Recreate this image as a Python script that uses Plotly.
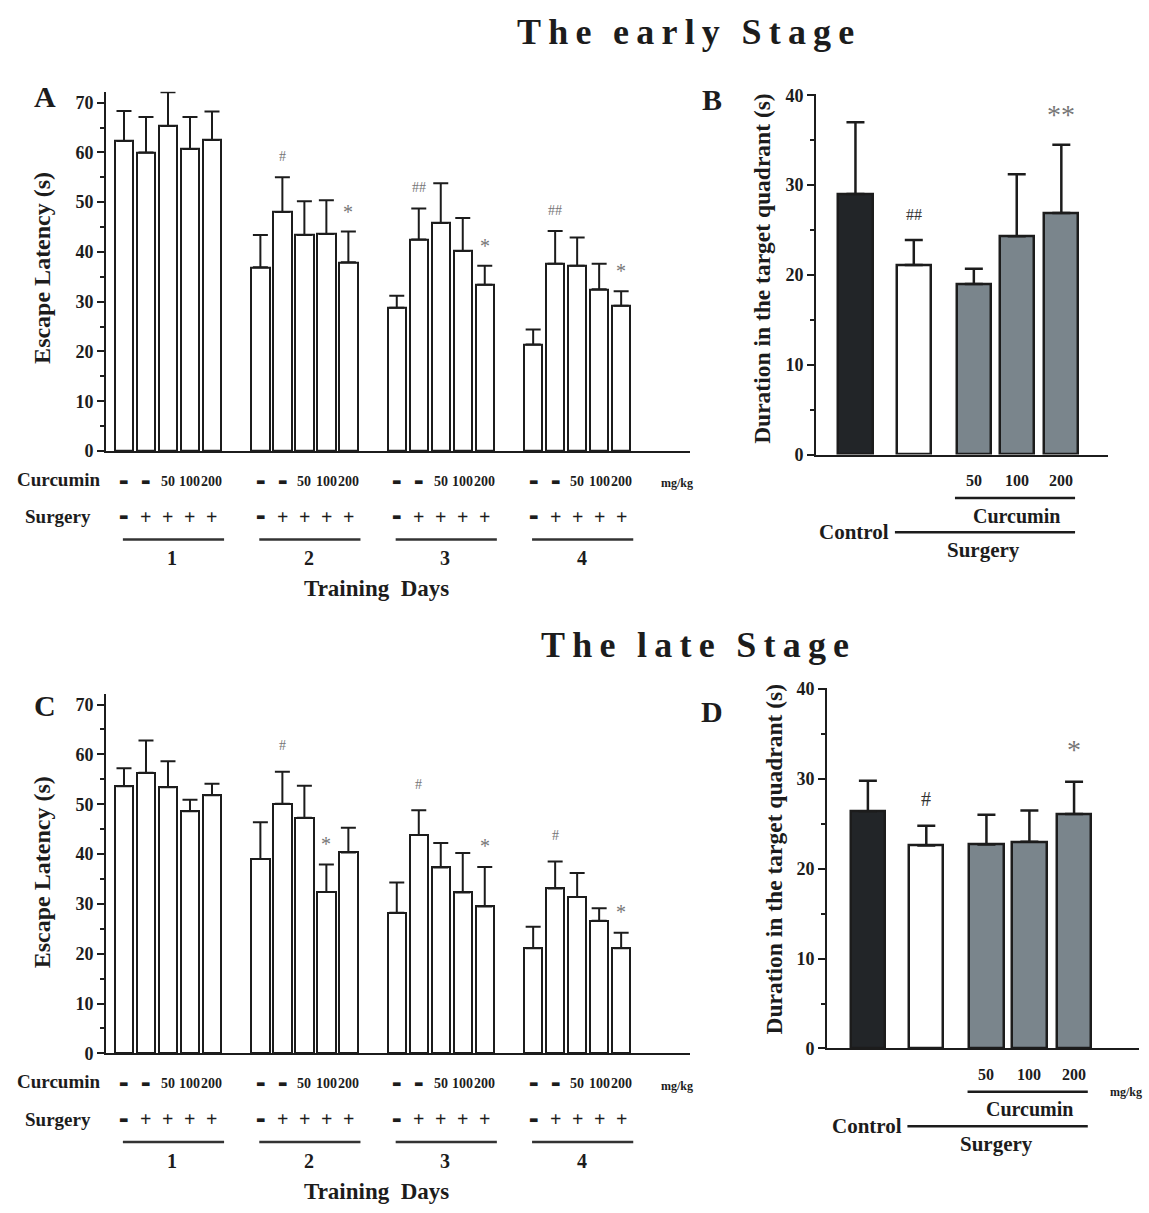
import plotly.graph_objects as go

W, H = 1149, 1213


def px(x):
    return x / W


def py(y):
    return 1 - y / H


FONT = "Liberation Serif"
INK = "#1c1c1c"
MARK_GRAY = "#767676"
BAR_GRAY = "#7a858c"
BAR_BLACK = "#222528"
TS = "\u2009"  # thin space for spaced-out titles
DASH = "\u25ac"  # block dash used in the treatment rows

# ---------------- data ----------------
days = ["1", "2", "3", "4"]
curcumin_row = ["-", "-", "50", "100", "200"]
surgery_row = ["-", "+", "+", "+", "+"]

# Panel A: early stage, escape latency (s), mean and upper SEM per training day
a_mean = [
    [62.3, 60.0, 65.3, 60.7, 62.5],
    [36.9, 48.0, 43.4, 43.6, 37.9],
    [28.8, 42.5, 45.8, 40.2, 33.4],
    [21.4, 37.6, 37.2, 32.5, 29.2],
]
a_err = [
    [6.0, 7.1, 6.8, 6.4, 5.7],
    [6.5, 7.0, 6.8, 6.8, 6.2],
    [2.4, 6.2, 8.0, 6.6, 3.8],
    [3.0, 6.6, 5.7, 5.1, 2.9],
]
a_marks = [(1, 1, "#"), (1, 4, "*"), (2, 1, "##"), (2, 4, "*"), (3, 1, "##"), (3, 4, "*")]

# Panel C: late stage, escape latency (s)
c_mean = [
    [53.6, 56.3, 53.4, 48.6, 51.8],
    [39.0, 50.1, 47.3, 32.4, 40.3],
    [28.2, 43.8, 37.3, 32.3, 29.5],
    [21.1, 33.1, 31.4, 26.6, 21.1],
]
c_err = [
    [3.6, 6.5, 5.2, 2.3, 2.3],
    [7.4, 6.4, 6.4, 5.5, 5.0],
    [6.1, 5.0, 4.9, 7.9, 7.9],
    [4.3, 5.4, 4.8, 2.5, 3.1],
]
c_marks = [(1, 1, "#"), (1, 3, "*"), (2, 1, "#"), (2, 4, "*"), (3, 1, "#"), (3, 4, "*")]

# Panels B / D: duration in the target quadrant (s)
quad_groups = ["Control", "Surgery", "Surgery+Cur50", "Surgery+Cur100", "Surgery+Cur200"]
dose_labels = ["50", "100", "200"]
b_mean = [29.0, 21.1, 19.0, 24.3, 26.9]
b_err = [8.0, 2.8, 1.7, 6.9, 7.6]
b_marks = [(1, "##"), (4, "**")]
d_mean = [26.4, 22.6, 22.7, 23.0, 26.1]
d_err = [3.4, 2.2, 3.3, 3.5, 3.6]
d_marks = [(1, "#"), (4, "*")]

# ---------------- layout helpers ----------------
GROUP_STEP = 6.2          # spacing between training-day groups (bar units)
quad_pos = [0, 1.70, 3.45, 4.70, 6.0]   # bar slots in panels B/D
quad_colors = [BAR_BLACK, "white", BAR_GRAY, BAR_GRAY, BAR_GRAY]


def lat_pos(g, i):
    return g * GROUP_STEP + i


fig = go.Figure()
annotations = []
shapes = []


def txt(x, y, text, size, xref="paper", yref="paper", bold=True, color=INK,
        xanchor="center", yanchor="middle", angle=0, yshift=0, family=FONT):
    annotations.append(dict(
        x=x, y=y, xref=xref, yref=yref, text=text, showarrow=False,
        xanchor=xanchor, yanchor=yanchor, textangle=angle, yshift=yshift,
        font=dict(family=family, size=size, color=color,
                  weight="bold" if bold else "normal"),
    ))


def row_label(x, y, s, size, xref):
    if s == "-":
        txt(x, y, DASH, 10, xref=xref, bold=False, family="DejaVu Sans")
    else:
        txt(x, y, s, size, xref=xref)


def latency_panel(mean, err, marks, xa, ya, axis_y_px, hash_shift, star_shift):
    xs, ys, es = [], [], []
    for g in range(len(days)):
        for i in range(5):
            xs.append(lat_pos(g, i))
            ys.append(mean[g][i])
            es.append(err[g][i])
    fig.add_trace(go.Bar(
        x=xs, y=ys, width=0.83, xaxis=xa, yaxis=ya,
        marker=dict(color="white", line=dict(color=INK, width=2)),
        error_y=dict(type="data", symmetric=False, array=es, arrayminus=[0] * len(es),
                     color=INK, thickness=2, width=7.5),
        showlegend=False, hoverinfo="skip",
    ))
    for g, i, m in marks:
        star = "*" in m
        txt(lat_pos(g, i), mean[g][i] + err[g][i], m, 20 if star else 14,
            xref=xa, yref=ya, bold=False, color=MARK_GRAY,
            yshift=star_shift if star else hash_shift)
    # treatment rows under the axis
    for g in range(len(days)):
        for i in range(5):
            row_label(lat_pos(g, i), py(axis_y_px + 31), curcumin_row[i], 14, xa)
            row_label(lat_pos(g, i), py(axis_y_px + 67), surgery_row[i], 20, xa)
        shapes.append(dict(type="line", xref=xa, yref="paper",
                           x0=lat_pos(g, 0) - 0.05, x1=lat_pos(g, 4) + 0.55,
                           y0=py(axis_y_px + 90), y1=py(axis_y_px + 90),
                           line=dict(color="#333333", width=2.5)))
        txt(lat_pos(g, 2.2), py(axis_y_px + 109), days[g], 20, xref=xa)
    txt(px(58), py(axis_y_px + 29), "Curcumin", 19)
    txt(px(58), py(axis_y_px + 67), "Surgery", 19)
    txt(px(677), py(axis_y_px + 33), "mg/kg", 12)
    txt(px(376), py(axis_y_px + 140), "Training\u00a0\u00a0Days", 23)


def quadrant_panel(mean, err, marks, xa, ya, axis_y_px, hash_shift, star_shift,
                   hash_size, star_size, hash_color):
    fig.add_trace(go.Bar(
        x=quad_pos, y=mean, width=1.0, xaxis=xa, yaxis=ya,
        marker=dict(color=quad_colors, line=dict(color=INK, width=2.5)),
        error_y=dict(type="data", symmetric=False, array=err, arrayminus=[0] * len(err),
                     color=INK, thickness=2.5, width=9),
        showlegend=False, hoverinfo="skip",
    ))
    for i, m in marks:
        star = "*" in m
        txt(quad_pos[i], mean[i] + err[i], m, star_size if star else hash_size,
            xref=xa, yref=ya, bold=False, color=MARK_GRAY if star else hash_color,
            yshift=star_shift if star else hash_shift)
    for k, d in enumerate(dose_labels):
        txt(quad_pos[2 + k], py(axis_y_px + 26), d, 16, xref=xa)
    y1 = py(axis_y_px + 44)
    shapes.append(dict(type="line", xref=xa, yref="paper",
                       x0=quad_pos[2] - 0.55, x1=quad_pos[4] + 0.4, y0=y1, y1=y1,
                       line=dict(color=INK, width=2.5)))
    txt(quad_pos[4] + 1.5, py(axis_y_px + 44), "mg/kg", 12, xref=xa)
    txt(quad_pos[3], py(axis_y_px + 62), "Curcumin", 20, xref=xa)
    y2 = py(axis_y_px + 79)
    shapes.append(dict(type="line", xref=xa, yref="paper",
                       x0=quad_pos[1] - 0.55, x1=quad_pos[4] + 0.4, y0=y2, y1=y2,
                       line=dict(color=INK, width=2.5)))
    txt(quad_pos[1] - 0.65, py(axis_y_px + 79), "Control", 21, xref=xa, xanchor="right")
    txt((quad_pos[1] + quad_pos[4]) / 2 - 0.12, py(axis_y_px + 97), "Surgery", 21, xref=xa)


latency_panel(a_mean, a_err, a_marks, "x", "y", 449, 21, 20)
quadrant_panel(b_mean, b_err, b_marks, "x2", "y2", 452.7, 25, 30, 16, 28, "#333333")
latency_panel(c_mean, c_err, c_marks, "x3", "y3", 1061, 26, 21)
quadrant_panel(d_mean, d_err, d_marks, "x4", "y4", 1056, 27, 32, 20, 28, "#333333")

# titles, panel letters, axis titles
txt(px(685), py(23), TS.join("The") + TS * 3 + TS.join("early") + TS * 3 + TS.join("Stage"), 36)
txt(px(695), py(646), TS.join("The") + TS * 3 + TS.join("late") + TS * 3 + TS.join("Stage"), 36)
txt(px(45), py(89), "A", 30)
txt(px(712), py(92), "B", 30)
txt(px(45), py(708), "C", 30)
txt(px(712), py(714), "D", 30)
txt(px(42), py(263), "Escape Latency (s)", 24, angle=-90)
txt(px(42), py(877), "Escape Latency (s)", 24, angle=-90)
txt(px(762), py(264), "Duration in the target quadrant (s)", 23.5, angle=-90)
txt(px(774), py(864), "Duration in the target quadrant (s)", 23.5, angle=-90)

common_x = dict(showline=True, linecolor=INK, linewidth=2, showgrid=False, zeroline=False,
                showticklabels=False, ticks="", fixedrange=True)


def yax(dom, rng):
    return dict(domain=dom, range=rng, showline=True, linecolor=INK, linewidth=2,
                showgrid=False, zeroline=False, ticks="outside", ticklen=7, tickwidth=2,
                tickcolor=INK, tick0=0, dtick=10,
                tickfont=dict(family=FONT, size=18, color=INK, weight="bold"),
                minor=dict(dtick=5, ticks="outside", ticklen=4, tickwidth=1.5, tickcolor=INK))


fig.update_layout(
    width=W, height=H, margin=dict(l=0, r=0, t=0, b=0),
    paper_bgcolor="white", plot_bgcolor="white", bargap=0,
    xaxis=dict(common_x, domain=[px(106), px(690)], range=[-0.818, 25.73], anchor="y"),
    yaxis=dict(yax([py(449), py(84)], [0, 72.2]), anchor="x"),
    xaxis2=dict(common_x, domain=[px(816), px(1108)], range=[-1.15, 7.36], anchor="y2"),
    yaxis2=dict(yax([py(452.7), py(86.7)], [0, 40.1]), anchor="x2"),
    xaxis3=dict(common_x, domain=[px(106), px(690)], range=[-0.818, 25.73], anchor="y3"),
    yaxis3=dict(yax([py(1061), py(696)], [0, 72.1]), anchor="x3"),
    xaxis4=dict(common_x, domain=[px(827), px(1139)], range=[-1.19, 7.89], anchor="y4"),
    yaxis4=dict(yax([py(1056), py(690)], [0, 40.1]), anchor="x4"),
    annotations=annotations, shapes=shapes,
)

fig.write_html("out.html", config={"displayModeBar": False},
               post_script="document.body.style.margin='0';document.body.style.overflow='hidden';")
